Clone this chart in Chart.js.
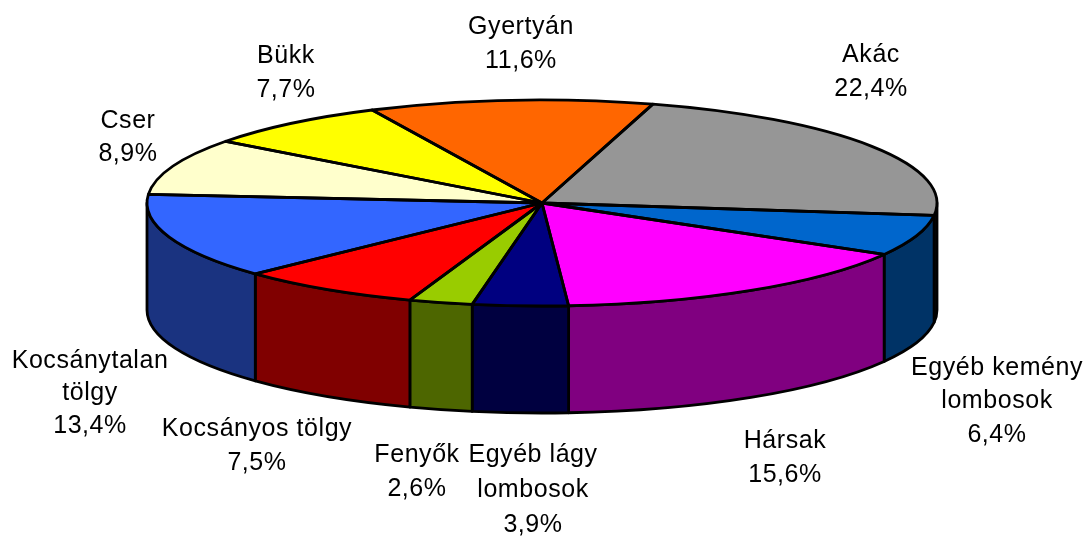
<!DOCTYPE html>
<html><head><meta charset="utf-8">
<style>html,body{margin:0;padding:0;background:#fff}canvas{display:block}</style>
<script src="https://cdn.jsdelivr.net/npm/chart.js@4"></script>
</head><body><canvas id="c" width="1089" height="537"></canvas>
<script>
const categories = ["Akác","Egyéb kemény lombosok","Hársak","Egyéb lágy lombosok","Fenyők","Kocsányos tölgy","Kocsánytalan tölgy","Cser","Bükk","Gyertyán"];
const shares = [22.4,6.4,15.6,3.9,2.6,7.5,13.4,8.9,7.7,11.6];
const topColors = ["#969696","#0066CC","#FF00FF","#000080","#99CC00","#FF0000","#3366FF","#FFFFCC","#FFFF00","#FF6600"];
const sideColors = ["#4B4B4B","#003366","#800080","#000040","#4D6600","#800000","#1A3380","#808066","#808000","#803300"];
const labelLines = [["Akác"],["Egyéb kemény","lombosok"],["Hársak"],["Egyéb lágy","lombosok"],["Fenyők"],["Kocsányos tölgy"],["Kocsánytalan","tölgy"],["Cser"],["Bükk"],["Gyertyán"]];
const labelAnchors = [[871,55,34],[997,368,33.5],[785,441,34],[533,455,35],[417,455,34],[257,429,34],[90,361,32.5],[128,121,33],[286,56,34],[521,27,34]];
const view = {cx:542, cy:203, rx:395, ry:103, depth:107, line:2.8};

const pie3d = {
  id:"pie3d",
  beforeDatasetsDraw(chart){
    const ctx = chart.ctx, arcs = chart.getDatasetMeta(0).data;
    arcs.forEach((arc,i)=>{
      const s = Math.max(arc.startAngle,0), e = Math.min(arc.endAngle,Math.PI);
      if(e<=s) return;
      ctx.beginPath();
      ctx.ellipse(view.cx,view.cy,view.rx,view.ry,0,s,e);
      ctx.ellipse(view.cx,view.cy+view.depth,view.rx,view.ry,0,e,s,true);
      ctx.closePath();
      ctx.fillStyle = sideColors[i];
      ctx.fill();
      ctx.lineWidth = view.line; ctx.strokeStyle="#000"; ctx.lineJoin="round";
      ctx.stroke();
    });
    const a = arcs[0];
    ctx.save();
    ctx.translate(view.cx,view.cy);
    ctx.scale(view.rx/a.outerRadius,view.ry/a.outerRadius);
    ctx.translate(-a.x,-a.y);
  },
  afterDatasetsDraw(chart){
    const ctx = chart.ctx, arcs = chart.getDatasetMeta(0).data;
    ctx.restore();
    arcs.forEach(arc=>{
      ctx.beginPath();
      ctx.moveTo(view.cx,view.cy);
      ctx.ellipse(view.cx,view.cy,view.rx,view.ry,0,arc.startAngle,arc.endAngle);
      ctx.closePath();
      ctx.lineWidth = view.line; ctx.strokeStyle="#000"; ctx.lineJoin="round";
      ctx.stroke();
    });
  },
  afterDraw(chart){
    const ctx = chart.ctx;
    ctx.save();
    ctx.font = '25px "Liberation Sans"';
    ctx.letterSpacing = "0.55px";
    ctx.fillStyle="#000"; ctx.textAlign="center"; ctx.textBaseline="middle";
    categories.forEach((c,i)=>{
      const [x,y,lh] = labelAnchors[i];
      const lines = labelLines[i].concat(shares[i].toFixed(1).replace(".",",")+"%");
      lines.forEach((t,j)=>ctx.fillText(t,x,y+j*lh));
    });
    ctx.restore();
  }
};

new Chart(document.getElementById("c"),{
  type:"pie",
  data:{labels:categories,datasets:[{data:shares,backgroundColor:topColors,borderWidth:0,hoverOffset:0}]},
  options:{
    responsive:false,animation:false,rotation:16.3,
    layout:{padding:0},
    plugins:{legend:{display:false},tooltip:{enabled:false}}
  },
  plugins:[pie3d]
});
</script></body></html>
